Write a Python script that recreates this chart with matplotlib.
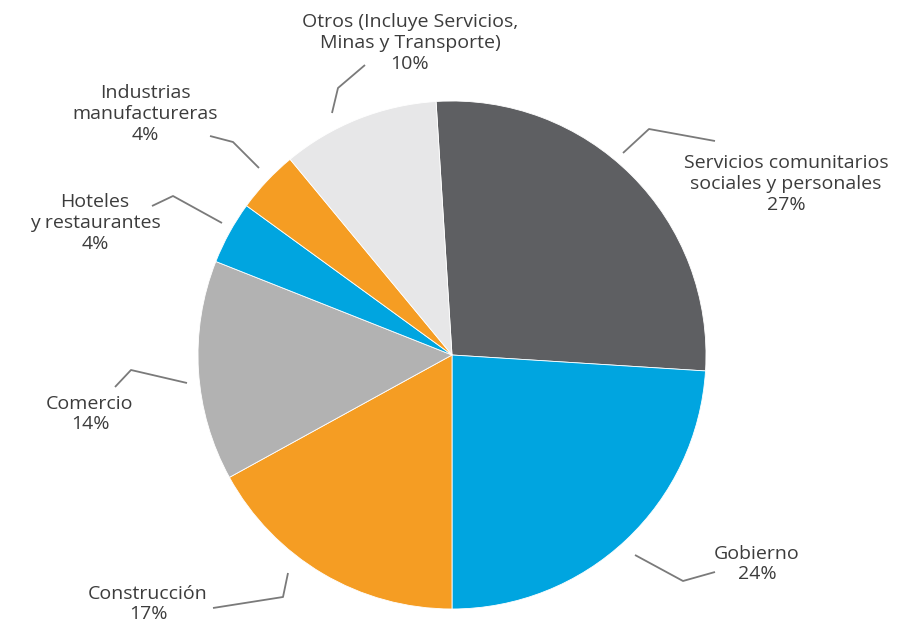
import matplotlib.pyplot as plt

# data (share of total, %)
sectors = ['Servicios comunitarios\nsociales y personales', 'Gobierno', 'Construcción',
           'Comercio', 'Hoteles\ny restaurantes', 'Industrias\nmanufactureras',
           'Otros (Incluye Servicios,\nMinas y Transporte)']
shares = [27, 24, 17, 14, 4, 4, 10]
colors = ['#5e5f62', '#00a5e0', '#f59d23', '#b2b2b2', '#00a5e0', '#f59d23', '#e7e7e8']

W, H = 904, 627

# label centres and leader polylines in pixel coords (y down)
label_pos = [(786, 184), (757, 564), (148, 604), (90, 414), (95, 223), (145, 114), (410, 43)]
leaders = [
    [(623, 153), (649, 129), (715, 141)],
    [(635, 555), (683, 581), (715, 572)],
    [(288, 573), (283, 597), (213, 608)],
    [(187, 383), (131, 370), (115, 387)],
    [(222, 223), (173, 196), (152, 206)],
    [(259, 168), (233, 142), (210, 136)],
    [(332, 113), (338, 88), (365, 65)],
]

plt.rcParams['font.family'] = ['Open Sans', 'DejaVu Sans']

fig = plt.figure(figsize=(W / 100, H / 100), dpi=100)
ax = fig.add_axes([0, 0, 1, 1])

cx, cy, r = 452, H - 355, 254
ax.pie(shares, colors=colors, startangle=93.6, counterclock=False,
       center=(cx, cy), radius=r, frame=True,
       wedgeprops=dict(edgecolor='white', linewidth=0.6))
ax.set_xlim(0, W)
ax.set_ylim(0, H)
ax.set_aspect('equal')
ax.axis('off')

for name, val, (lx, ly), pts in zip(sectors, shares, label_pos, leaders):
    ax.text(lx, H - ly, f'{name}\n{val}%', ha='center', va='center',
            fontsize=14, color='#3c3c3c', linespacing=1.2)
    ax.plot([p[0] for p in pts], [H - p[1] for p in pts], color='#7a7a7a', lw=1.3,
            solid_capstyle='butt')

fig.savefig('out.png', dpi=100)
